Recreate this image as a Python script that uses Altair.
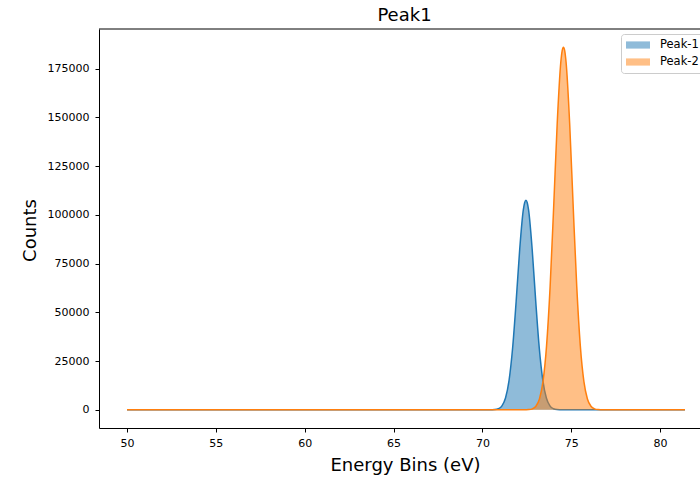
import altair as alt
import pandas as pd

# Peak-1 (blue) values
peak1_energy = [50.0, 70.0, 70.40, 70.70, 70.90, 71.10, 71.30, 71.50, 71.70, 71.90, 72.10, 72.30,
                72.38, 72.45, 72.52, 72.60, 72.80, 73.00, 73.20, 73.40, 73.60, 73.80, 74.00,
                74.20, 74.50, 75.0, 81.4]
peak1_counts = [0, 0, 12, 140, 585, 2060, 6090, 15170, 31720, 55760, 82420, 102400,
                106360, 107500, 106360, 102400, 82420, 55760, 31720, 15170, 6090, 2060, 585,
                140, 12, 0, 0]

# Peak-2 (orange) values
peak2_energy = [50.0, 72.0, 72.31, 72.61, 72.81, 73.01, 73.21, 73.41, 73.61, 73.81, 74.01, 74.21,
                74.41, 74.49, 74.56, 74.63, 74.71, 74.91, 75.11, 75.31, 75.51, 75.71, 75.91,
                76.11, 76.31, 76.51, 76.81, 77.2, 81.4]
peak2_counts = [0, 0, 11, 124, 517, 1836, 5600, 14640, 32810, 63070, 104000, 146980,
                178100, 184250, 186000, 184250, 178100, 146980, 104000, 63070, 32810, 14640, 5600,
                1836, 517, 124, 11, 0, 0]

series_names = ["Peak-1", "Peak-2"]
series_colors = ["#1f77b4", "#ff7f0e"]
x_ticks = [50, 55, 60, 65, 70, 75, 80]
y_ticks = [0, 25000, 50000, 75000, 100000, 125000, 150000, 175000]

df = pd.concat([
    pd.DataFrame({"energy": peak1_energy, "counts": peak1_counts, "peak": series_names[0]}),
    pd.DataFrame({"energy": peak2_energy, "counts": peak2_counts, "peak": series_names[1]}),
], ignore_index=True)

FONT = "DejaVu Sans"
W, H = 601, 399

x_enc = alt.X(
    "energy:Q",
    scale=alt.Scale(domain=[48.424, 82.245], nice=False, zero=False),
    axis=alt.Axis(values=x_ticks, title="Energy Bins (eV)", format="d", grid=False,
                  titleX=306, titleY=42, titleBaseline="alphabetic", titleAlign="center",
                  labelPadding=5),
)
y_enc = alt.Y(
    "counts:Q",
    scale=alt.Scale(domain=[-9300, 195300], nice=False, zero=False),
    axis=alt.Axis(values=y_ticks, title="Counts", format="d", grid=False,
                  titleX=-64, titleY=201, titleAngle=270, titleBaseline="alphabetic",
                  titleAlign="center", labelPadding=6),
)
color_scale = alt.Scale(domain=series_names, range=series_colors)
legend = alt.Legend(
    title=None, orient="none", legendX=522, legendY=5,
    symbolType="M-1,-0.6H3V0.6H-1Z", symbolSize=144, symbolOpacity=0.5,
    symbolStrokeWidth=0, labelOffset=22, labelFontSize=11.5, labelFont=FONT,
    labelColor="#000000", rowPadding=5, padding=5,
    fillColor="white", strokeColor="#cccccc", cornerRadius=3,
)

base = alt.Chart(df)


def area_layer(name, show_legend):
    return base.transform_filter(alt.datum.peak == name).mark_area(
        fillOpacity=0.5, interpolate="monotone"
    ).encode(
        x=x_enc, y=y_enc,
        color=alt.Color("peak:N", scale=color_scale, legend=legend if show_legend else None),
    )


def line_layer(name):
    return base.transform_filter(alt.datum.peak == name).mark_line(
        strokeWidth=1.5, interpolate="monotone"
    ).encode(
        x=x_enc, y=y_enc,
        color=alt.Color("peak:N", scale=color_scale, legend=None),
    )


top_spine = alt.Chart(pd.DataFrame({"a": [0]})).mark_rule(color="#000000", strokeWidth=1).encode(
    x=alt.value(0), x2=alt.value(W), y=alt.value(0)
)

chart = alt.layer(
    area_layer("Peak-1", True), line_layer("Peak-1"),
    area_layer("Peak-2", True), line_layer("Peak-2"),
    top_spine,
).properties(
    width=W, height=H,
    title=alt.TitleParams("Peak1", fontSize=18, font=FONT, fontWeight="normal",
                          anchor="middle", dx=5, offset=-10, baseline="alphabetic",
                          color="#000000"),
    autosize=alt.AutoSizeParams(type="none"),
    padding={"left": 99, "top": 29, "right": 0, "bottom": 51},
    background="white",
).configure_view(stroke=None).configure_axis(
    grid=False, domainColor="#000000", domainWidth=1, tickColor="#000000", tickSize=4,
    labelFont=FONT, labelFontSize=11, labelColor="#000000",
    titleFont=FONT, titleFontSize=18, titleFontWeight="normal", titleColor="#000000",
)

chart.save("out.html", embed_options={"renderer": "svg", "actions": False})
